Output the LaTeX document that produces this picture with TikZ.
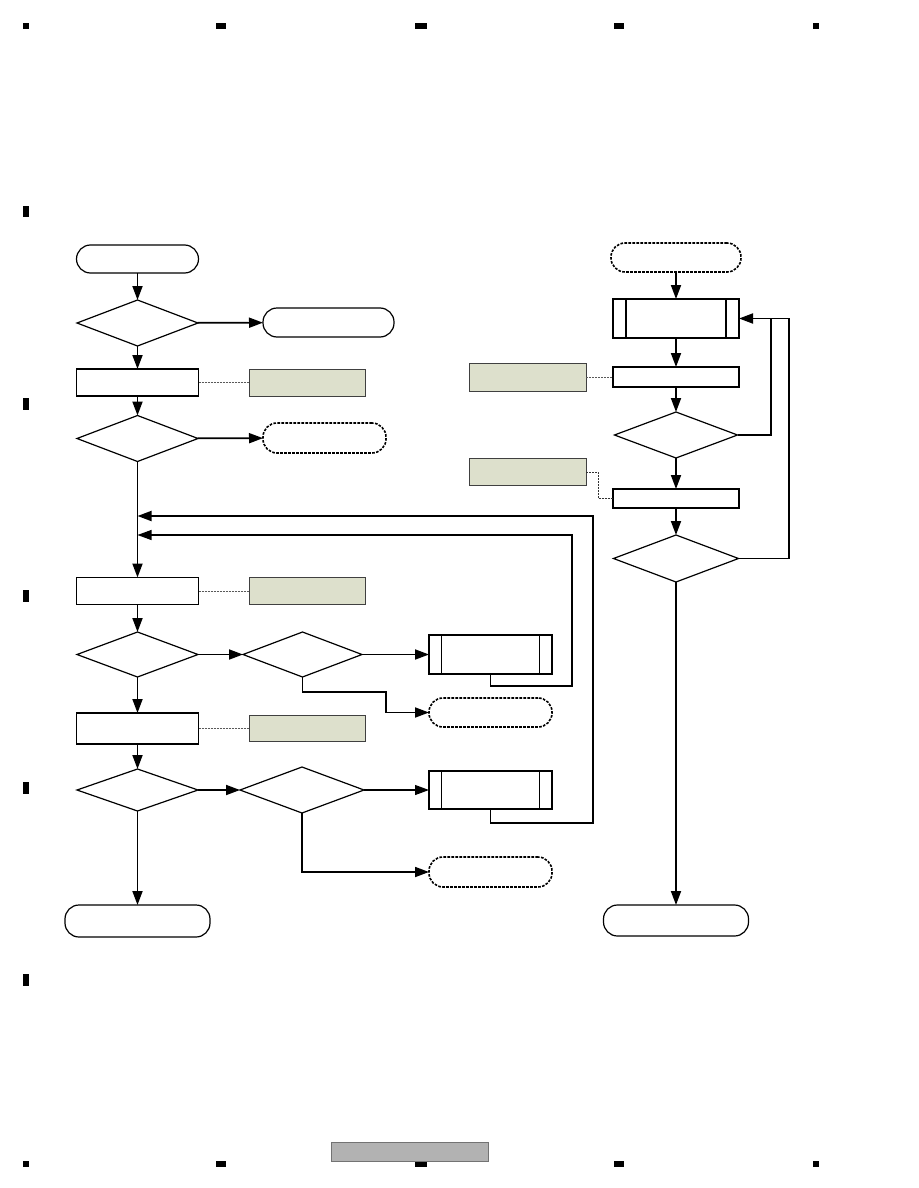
\documentclass[tikz,border=0pt]{standalone}
\usetikzlibrary{shapes.geometric,arrows.meta}
\definecolor{notegreen}{RGB}{221,224,204}

\begin{document}
\begin{tikzpicture}[
                x=1pt, y=-1pt,
                every node/.style={inner sep=0pt, outer sep=0pt},
                term/.style={draw, line width=1.2pt, rounded corners=14pt, minimum width=#1, minimum height=29pt},
                offpage/.style={term=#1, line width=1.6pt, dash pattern=on 2.6pt off 1.4pt},
                decision/.style={diamond, draw, line width=1.2pt, minimum width=121pt, minimum height=46pt},
                proc/.style={draw, line width=1.3pt, minimum width=122pt, minimum height=27pt},
                subproc/.style={draw, line width=1.3pt, minimum width=123pt, minimum height=39pt},
                note/.style={draw=black!75, line width=0.8pt, fill=notegreen, minimum width=116pt, minimum height=27pt},
                flow/.style={line width=1.8pt, -{Triangle[length=14pt,width=10pt]}},
                thinflow/.style={flow, line width=1.1pt},
                link/.style={draw=black!65, line width=0.7pt, dash pattern=on 2pt off 1pt}
            ]

            \useasboundingbox (0,0) rectangle (918,1188);

            % page marks
            \foreach \x/\w in {23/6, 216/10, 415/12, 614/10, 813/6} {
                \fill (\x,23) rectangle ++(\w,6);
                \fill (\x,1161) rectangle ++(\w,6);
            }
            \foreach \y/\h in {206/11, 398/12, 590/12, 782/12, 974/12}
                \fill (23,\y) rectangle ++(6,\h);
            \draw[draw=black!55, fill=black!30, line width=0.8pt] (331,1142) rectangle (488,1161);

            % left chart
            \node[term=122pt, minimum height=28pt] (start) at (137.5,259) {};
            \node[decision] (d1) at (137.5,323) {};
            \node[term=131pt] (end1) at (328.5,322.5) {};
            \node[proc] (r1) at (137.5,382.5) {};
            \node[note] (n1) at (307,382.5) {};
            \node[decision] (d2) at (137.5,438.5) {};
            \node[offpage=123pt, minimum height=30pt] (off1) at (324.5,438) {};
            \node[proc, line width=1.9pt] (r3) at (137.5,591) {};
            \node[note] (n3) at (307,591) {};
            \node[decision, minimum height=45pt] (d4) at (137.5,654.5) {};
            \node[decision, minimum width=119pt, minimum height=45pt] (d5) at (302.5,654.5) {};
            \node[subproc] (sp3) at (490.5,654.5) {};
            \node[offpage=123pt] (off2) at (490.5,712.5) {};
            \node[proc, line width=1.9pt, minimum height=31pt] (r4) at (137.5,728.5) {};
            \node[note, minimum height=26pt] (n4) at (307,728.5) {};
            \node[decision, minimum height=42pt] (d6) at (137.5,790) {};
            \node[decision, minimum width=124pt] (d7) at (302,790) {};
            \node[subproc, minimum height=38pt] (sp4) at (490.5,790) {};
            \node[offpage=123pt, minimum height=30pt] (off3) at (490.5,872) {};
            \node[term=145pt, minimum height=32pt] (end2) at (137.5,921) {};

            \coordinate (j1) at (137.5,516);
            \coordinate (j2) at (137.5,535);

            % right chart
            \node[offpage=130pt] (off0) at (676,257.5) {};
            \node[subproc, minimum width=126pt] (sp1) at (676,318.5) {};
            \node[proc, minimum width=126pt, minimum height=20pt] (r5) at (676,377) {};
            \node[note, minimum width=117pt, minimum height=28pt] (n5) at (527.5,377) {};
            \node[decision, minimum width=123pt] (d8) at (676,435) {};
            \node[note, minimum width=117pt] (n6) at (527.5,472) {};
            \node[proc, minimum width=126pt, minimum height=19pt] (r6) at (676,498.5) {};
            \node[decision, minimum width=125pt, minimum height=47pt] (d9) at (676,558.5) {};
            \node[term=145pt, minimum height=31pt] (end3) at (676,920.5) {};

            \draw[line width=1.3pt] ([xshift=13pt]sp1.north west) -- ([xshift=13pt]sp1.south west)
                ([xshift=-13pt]sp1.north east) -- ([xshift=-13pt]sp1.south east);
            \foreach \n in {sp3,sp4}
                \draw[line width=1.3pt] ([xshift=12.5pt]\n.north west) -- ([xshift=12.5pt]\n.south west)
                    ([xshift=-12.5pt]\n.north east) -- ([xshift=-12.5pt]\n.south east);

            % connectors left
            \draw[flow] (start) -- (d1);
            \draw[flow] (d1) -- (end1);
            \draw[flow] (d1) -- (r1);
            \draw[link] (r1) -- (n1);
            \draw[flow] (r1) -- (d2);
            \draw[flow] (d2) -- (off1);
            \draw[flow] (d2) -- (r3);
            \draw[link] (r3) -- (n3);
            \draw[flow] (r3) -- (d4);
            \draw[flow] (d4) -- (d5);
            \draw[flow] (d5) -- (sp3);
            \draw[flow] (d5.south) |- (386,692) |- (off2.west);
            \draw[thinflow] (sp3.south) |- (572,686) |- (j2);
            \draw[flow] (d4) -- (r4);
            \draw[link] (r4) -- (n4);
            \draw[flow] (r4) -- (d6);
            \draw[flow] (d6) -- (d7);
            \draw[thinflow] (d7) -- (sp4);
            \draw[flow] (d7.south) |- (off3.west);
            \draw[flow] (sp4.south) |- (593,823) |- (j1);
            \draw[flow] (d6) -- (end2);

            % connectors right
            \draw[flow] (off0) -- (sp1);
            \draw[flow] (sp1) -- (r5);
            \draw[link] (n5) -- (r5);
            \draw[flow] (r5) -- (d8);
            \draw[thinflow, -] (d9.east) -| (789,318.5) -- (771,318.5);
            \draw[flow] (d8.east) -| (771,318.5) -- (sp1.east);
            \draw[flow] (d8) -- (r6);
            \draw[link, draw=black!80] (n6.east) -| (598,498.5) -- (r6.west);
            \draw[flow] (r6) -- (d9);
            \draw[flow] (d9) -- (end3);

        \end{tikzpicture}
\end{document}
